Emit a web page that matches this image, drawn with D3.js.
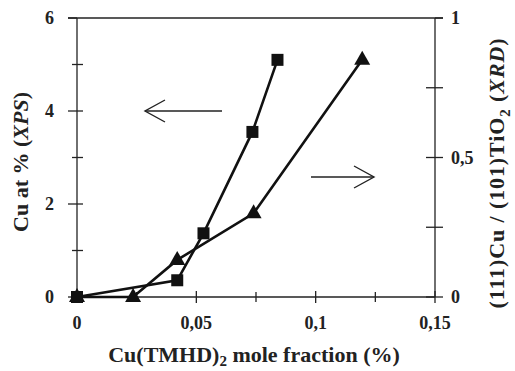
<!DOCTYPE html>
<html>
<head>
<meta charset="utf-8">
<script src="https://cdn.jsdelivr.net/npm/d3@7"></script>
<style>
  body { margin: 0; background: #fff; }
  text { font-family: "Liberation Serif", "Times New Roman", serif; font-weight: bold; fill: #222; }
</style>
</head>
<body>
<svg id="chart" width="515" height="371"></svg>
<script>
// Cu at% from XPS (left axis), squares
let xpsX = [0, 0.042, 0.053, 0.0735, 0.084]
let xpsY = [0, 0.36, 1.37, 3.55, 5.1]
// (111)Cu/(101)TiO2 XRD ratio (right axis), triangles
let xrdX = [0, 0.0235, 0.042, 0.074, 0.1195]
let xrdY = [0, 0, 0.133, 0.30, 0.85]

let xTicks = [0, 0.05, 0.1, 0.15]
let xTickLabels = ["0", "0,05", "0,1", "0,15"]
let yLeftTicks = [0, 2, 4, 6]
let yRightTicks = [0, 0.5, 1]
let yRightLabels = ["0", "0,5", "1"]

const svg = d3.select("#chart")
const mLeft = 77, mRight = 435, mTop = 18, mBottom = 297
const ink = "#222"

let x = d3.scaleLinear().domain([0, 0.15]).range([mLeft, mRight])
let yL = d3.scaleLinear().domain([0, 6]).range([mBottom, mTop])
let yR = d3.scaleLinear().domain([0, 1]).range([mBottom, mTop])

// top frame line
svg.append("line").attr("x1", mLeft - 9).attr("x2", mRight + 8)
    .attr("y1", mTop).attr("y2", mTop).attr("stroke", ink).attr("stroke-width", 1.3)

function styleAxis(g) {
    g.selectAll("path").attr("stroke", ink).attr("stroke-width", 1.3)
    g.selectAll("line").attr("stroke", ink).attr("stroke-width", 1.3)
    g.selectAll("text").attr("font-size", 18).attr("fill", ink)
}

// x axis: crossing ticks
let xMinor = [0.025, 0.075, 0.125]
let gx = svg.append("g").attr("transform", `translate(0,${mBottom})`)
gx.append("path").attr("d", `M${mLeft},0H${mRight}`)
gx.selectAll(".maj").data(xTicks).join("line").attr("class", "maj")
    .attr("x1", d => x(d)).attr("x2", d => x(d)).attr("y1", -6).attr("y2", 6)
gx.selectAll(".min").data(xMinor).join("line").attr("class", "min")
    .attr("x1", d => x(d)).attr("x2", d => x(d)).attr("y1", -5).attr("y2", 5)
gx.selectAll("text").data(xTicks).join("text")
    .attr("x", d => x(d)).attr("y", 32).attr("text-anchor", "middle")
    .text((d, i) => xTickLabels[i])
styleAxis(gx)

// left axis
let gl = svg.append("g").attr("transform", `translate(${mLeft},0)`)
gl.append("path").attr("d", `M0,${mTop}V${mBottom}`)
gl.selectAll(".maj").data(yLeftTicks).join("line").attr("class", "maj")
    .attr("x1", -9).attr("x2", d => d == 6 ? 0 : 6).attr("y1", d => yL(d)).attr("y2", d => yL(d))
gl.selectAll(".min").data([1, 3, 5]).join("line").attr("class", "min")
    .attr("x1", -5).attr("x2", 6).attr("y1", d => yL(d)).attr("y2", d => yL(d))
gl.selectAll("text").data(yLeftTicks).join("text")
    .attr("x", -23).attr("y", d => yL(d) + 6).attr("text-anchor", "end")
    .text(d => d)
styleAxis(gl)

// right axis
let gr = svg.append("g").attr("transform", `translate(${mRight},0)`)
gr.append("path").attr("d", `M0,${mTop}V${mBottom}`)
gr.selectAll(".maj").data(yRightTicks).join("line").attr("class", "maj")
    .attr("x1", d => d == 1 ? 0 : -9).attr("x2", 8).attr("y1", d => yR(d)).attr("y2", d => yR(d))
gr.selectAll(".min").data([0.25, 0.75]).join("line").attr("class", "min")
    .attr("x1", -9).attr("x2", 8).attr("y1", d => yR(d)).attr("y2", d => yR(d))
gr.selectAll("text").data(yRightTicks).join("text")
    .attr("x", 16).attr("y", d => yR(d) + 6).attr("text-anchor", "start")
    .text((d, i) => yRightLabels[i])
styleAxis(gr)

// series lines
let xps = xpsX.map((v, i) => [v, xpsY[i]])
let xrd = xrdX.map((v, i) => [v, xrdY[i]])
svg.append("path").datum(xps)
    .attr("d", d3.line().x(d => x(d[0])).y(d => yL(d[1])))
    .attr("fill", "none").attr("stroke", "#111").attr("stroke-width", 2.6)
svg.append("path").datum(xrd)
    .attr("d", d3.line().x(d => x(d[0])).y(d => yR(d[1])))
    .attr("fill", "none").attr("stroke", "#111").attr("stroke-width", 2.6)

// markers
svg.selectAll(".sq").data(xps).join("rect").attr("class", "sq")
    .attr("x", d => x(d[0]) - 6).attr("y", d => yL(d[1]) - 6)
    .attr("width", 12).attr("height", 12).attr("fill", "#111")
svg.selectAll(".tri").data(xrd).join("path").attr("class", "tri")
    .attr("transform", d => `translate(${x(d[0])},${yR(d[1]) - 1})`)
    .attr("d", "M0,-8L8,6L-8,6Z").attr("fill", "#111")

// arrows (open heads)
function arrow(x1, x2, y, dir) {
    svg.append("line").attr("x1", x1).attr("x2", x2).attr("y1", y).attr("y2", y)
        .attr("stroke", ink).attr("stroke-width", 1.4)
    let tip = dir < 0 ? x1 : x2
    svg.append("path")
        .attr("d", `M${tip - dir * 20},${y - 11}L${tip},${y}L${tip - dir * 20},${y + 11}`)
        .attr("fill", "none").attr("stroke", ink).attr("stroke-width", 1.4)
}
arrow(145, 222, yL(4), -1)
arrow(311, 374, 177, 1)

// axis titles
let tl = svg.append("text").attr("transform", "translate(28,162) rotate(-90)")
    .attr("text-anchor", "middle").attr("font-size", 22)
tl.append("tspan").text("Cu at % (")
tl.append("tspan").attr("font-style", "italic").text("XPS")
tl.append("tspan").text(")")

let tr = svg.append("text").attr("transform", "translate(504,173) rotate(-90)")
    .attr("text-anchor", "middle").attr("font-size", 22).attr("letter-spacing", 0.9)
tr.append("tspan").text("(111)Cu / (101)TiO")
tr.append("tspan").attr("font-size", 15).attr("dy", 6).text("2")
tr.append("tspan").attr("dy", -6).text(" (")
tr.append("tspan").attr("font-style", "italic").text("XRD")
tr.append("tspan").text(")")

let tx = svg.append("text").attr("x", 254).attr("y", 362)
    .attr("text-anchor", "middle").attr("font-size", 22)
tx.append("tspan").text("Cu(TMHD)")
tx.append("tspan").attr("font-size", 15).attr("dy", 4).text("2")
tx.append("tspan").attr("dy", -4).text(" mole fraction (%)")
</script>
</body>
</html>
